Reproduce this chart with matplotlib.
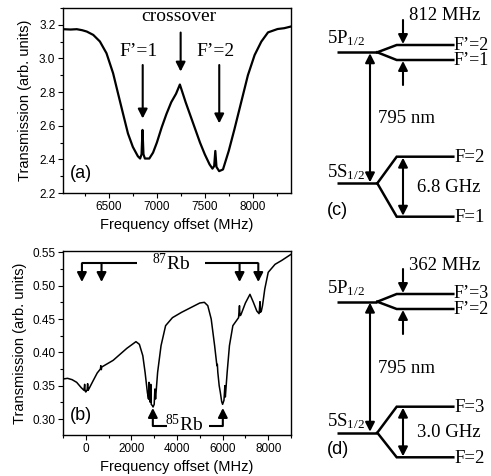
import matplotlib
matplotlib.use("Agg")
import matplotlib.pyplot as plt
from matplotlib.ticker import MultipleLocator, FormatStrFormatter

plt.rcParams['font.family'] = ['Liberation Sans', 'DejaVu Sans']
plt.rcParams['mathtext.fontset'] = 'custom'
plt.rcParams['mathtext.rm'] = 'Liberation Serif'
plt.rcParams['mathtext.it'] = 'Liberation Serif:italic'
SERIF = ['Liberation Serif', 'DejaVu Serif']

# ---------------- data: panel (a) 87Rb F=1 saturated absorption ----------------
freq_a = [6020, 6100, 6164, 6220, 6268, 6336, 6405, 6474, 6543, 6594, 6646, 6698,
          6749, 6801, 6825, 6840, 6850, 6860, 6875, 6900, 6921, 6960, 7000, 7050,
          7100, 7150, 7200, 7240, 7260, 7300, 7350, 7400, 7450, 7500, 7550, 7580,
          7598, 7610, 7622, 7650, 7690, 7750, 7810, 7880, 7950, 8020, 8090, 8160,
          8260, 8330, 8400]
trans_a = [3.174, 3.172, 3.174, 3.168, 3.160, 3.140, 3.101, 3.031, 2.912, 2.793, 2.673, 2.554,
           2.474, 2.419, 2.405, 2.43, 2.575, 2.43, 2.405, 2.405, 2.405, 2.44, 2.50, 2.59,
           2.67, 2.74, 2.79, 2.845, 2.81, 2.74, 2.66, 2.58, 2.50, 2.43, 2.37, 2.345,
           2.36, 2.45, 2.355, 2.33, 2.34, 2.45, 2.58, 2.74, 2.90, 3.02, 3.10, 3.155,
           3.175, 3.18, 3.19]

# ---------------- data: panel (b) full Rb D1 spectrum ----------------
freq_b = [-1000, -800, -600, -400, -200, -80, -50, -30, 0, 60, 80, 100, 150, 300, 500, 640, 660,
          680, 700, 900, 1200, 1500, 1800, 2000, 2200, 2350, 2500, 2600, 2700, 2750, 2770,
          2790, 2830, 2850, 2870, 2920, 2950, 3000, 3030, 3060, 3150, 3300, 3500, 3800, 4200,
          4600, 5000, 5200, 5350, 5500, 5650, 5750, 5770, 5790, 5850, 5900, 5960, 6000, 6060,
          6100, 6120, 6200, 6300, 6450, 6700, 6740, 6760, 6800, 7000, 7200, 7350, 7500,
          7600, 7640, 7660, 7700, 7750, 7850, 8000, 8300, 8600, 9000]
trans_b = [0.360, 0.361, 0.359, 0.355, 0.347, 0.343, 0.352, 0.342, 0.3405, 0.344, 0.353, 0.343, 0.346, 0.356, 0.369, 0.375, 0.380,
           0.374, 0.378, 0.382, 0.388, 0.397, 0.406, 0.411, 0.416, 0.412, 0.395, 0.37, 0.34, 0.33, 0.355,
           0.33, 0.325, 0.352, 0.322, 0.320, 0.318, 0.322, 0.345, 0.33, 0.37, 0.41, 0.44, 0.452, 0.460,
           0.467, 0.474, 0.475, 0.470, 0.45, 0.41, 0.38, 0.382, 0.37, 0.35, 0.34, 0.326, 0.322, 0.328,
           0.35, 0.333, 0.37, 0.41, 0.44, 0.452, 0.47, 0.455, 0.456, 0.474, 0.487, 0.475, 0.462,
           0.458, 0.476, 0.460, 0.462, 0.470, 0.495, 0.520, 0.532, 0.538, 0.547]

# annotation positions (MHz)
a_labels = ["F\u2019=1", "crossover", "F\u2019=2"]
a_arrow_x = [6852, 7248, 7651]
rb87_arrows = [-170, 690, 6745, 7566]
rb85_arrows = [2940, 6010]

fig = plt.figure(figsize=(4.91, 4.76), dpi=100)
W, H = 491, 476

def add_ax(l, r, t, b):
    return fig.add_axes([l / W, 1 - b / H, (r - l) / W, (b - t) / H])

axA = add_ax(63, 291, 8, 193)
axB = add_ax(63, 291, 251, 435)

for ax in (axA, axB):
    for s in ax.spines.values():
        s.set_linewidth(1.0)
    ax.tick_params(which='major', direction='out', length=3.5, width=0.8, labelsize=8.5, pad=2)
    ax.tick_params(which='minor', direction='out', length=2, width=0.8)

# ---- panel (a)
axA.plot(freq_a, trans_a, color='k', lw=1.6)
axA.set_xlim(6020, 8400)
axA.set_ylim(2.2, 3.3)
axA.xaxis.set_major_locator(MultipleLocator(500))
axA.xaxis.set_minor_locator(MultipleLocator(250))
axA.yaxis.set_major_locator(MultipleLocator(0.2))
axA.yaxis.set_minor_locator(MultipleLocator(0.1))
axA.yaxis.set_major_formatter(FormatStrFormatter('%.1f'))
axA.set_xlabel("Frequency offset (MHz)", fontsize=10.5, labelpad=4)
axA.set_ylabel("Transmission (arb. units)", fontsize=10.5, labelpad=5)
axA.text(0.03, 0.06, "(a)", transform=axA.transAxes, fontsize=13, ha='left', va='bottom')

arw = dict(arrowstyle='-|>,head_length=0.55,head_width=0.28', lw=1.5, color='k',
           shrinkA=0, shrinkB=0)
a_tail = [2.961, 3.154, 2.961]
a_tip = [2.643, 2.922, 2.614]
a_text_x = [6811, 7231, 7609]
a_text_y = [3.04, 3.25, 3.04]
for lab, x, t0, t1, tx, ty in zip(a_labels, a_arrow_x, a_tail, a_tip, a_text_x, a_text_y):
    axA.annotate('', xy=(x, t1), xytext=(x, t0), arrowprops=arw)
    axA.text(tx, ty, lab, fontsize=14, family=SERIF, ha='center', va='center')

# ---- panel (b)
axB.plot(freq_b, trans_b, color='k', lw=1.1)
axB.set_xlim(-1000, 9000)
axB.set_ylim(0.276, 0.552)
axB.xaxis.set_major_locator(MultipleLocator(2000))
axB.xaxis.set_minor_locator(MultipleLocator(1000))
axB.yaxis.set_major_locator(MultipleLocator(0.05))
axB.yaxis.set_minor_locator(MultipleLocator(0.025))
axB.yaxis.set_major_formatter(FormatStrFormatter('%.2f'))
axB.set_xlabel("Frequency offset (MHz)", fontsize=10.5, labelpad=4)
axB.set_ylabel("Transmission (arb. units)", fontsize=10.5, labelpad=4)
axB.text(0.03, 0.06, "(b)", transform=axB.transAxes, fontsize=13, ha='left', va='bottom')

# 87Rb bracket
bar_y87, tip_y87 = 0.5336, 0.5055
axB.plot([rb87_arrows[0], 2250], [bar_y87, bar_y87], color='k', lw=1.5, solid_capstyle='butt')
axB.plot([5230, rb87_arrows[3]], [bar_y87, bar_y87], color='k', lw=1.5, solid_capstyle='butt')
for x in rb87_arrows:
    axB.annotate('', xy=(x, tip_y87), xytext=(x, bar_y87), arrowprops=arw)
axB.text(3750, bar_y87, r'$^{87}$Rb', fontsize=14, family=SERIF, ha='center', va='center')

# 85Rb bracket
bar_y85, tip_y85 = 0.2895, 0.3165
axB.plot([rb85_arrows[0], 3545], [bar_y85, bar_y85], color='k', lw=1.5, solid_capstyle='butt')
axB.plot([5400, rb85_arrows[1]], [bar_y85, bar_y85], color='k', lw=1.5, solid_capstyle='butt')
for x in rb85_arrows:
    axB.annotate('', xy=(x, tip_y85), xytext=(x, bar_y85), arrowprops=arw)
axB.text(4300, bar_y85 + 0.002, r'$^{85}$Rb', fontsize=14, family=SERIF, ha='center', va='center')

# ---------------- level diagrams (c) and (d) ----------------
axD = fig.add_axes([0, 0, 1, 1])
axD.set_xlim(0, W)
axD.set_ylim(H, 0)
axD.axis('off')
axD.patch.set_visible(False)

diag_panels = ["(c)", "(d)"]
upper_split = ["812 MHz", "362 MHz"]
upper_F = [["F\u2019=2", "F\u2019=1"], ["F\u2019=3", "F\u2019=2"]]
lower_split = ["6.8 GHz", "3.0 GHz"]
lower_F = [["F=2", "F=1"], ["F=3", "F=2"]]
# y positions (px) of: P level, F' upper, F' lower, S level, F upper, F lower
levels_y = [[52.3, 45, 60, 183.3, 156.7, 216.7],
            [301.7, 294, 309, 432.7, 406.7, 457.3]]

lw_l = 1.8
dbl = dict(arrowstyle='<|-|>,head_length=0.55,head_width=0.28', lw=1.5, color='k',
           shrinkA=0, shrinkB=0)
for i in range(2):
    P, Fu, Fl, S, Gu, Gl = levels_y[i]
    # P level
    axD.plot([336.7, 377.3], [P, P], color='k', lw=lw_l, solid_capstyle='butt')
    axD.plot([377.3, 396.7, 453.3], [P, Fu, Fu], color='k', lw=lw_l, solid_joinstyle='miter')
    axD.plot([377.3, 396.7, 453.3], [P, Fl, Fl], color='k', lw=lw_l, solid_joinstyle='miter')
    # S level
    axD.plot([336.7, 377.3], [S, S], color='k', lw=lw_l, solid_capstyle='butt')
    axD.plot([377.3, 396.7, 453.3], [S, Gu, Gu], color='k', lw=lw_l, solid_joinstyle='miter')
    axD.plot([377.3, 396.7, 453.3], [S, Gl, Gl], color='k', lw=lw_l, solid_joinstyle='miter')
    # 795 nm double arrow
    axD.annotate('', xy=(370, P + 1), xytext=(370, S - 1), arrowprops=dbl)
    # hyperfine split arrows of P
    axD.annotate('', xy=(403, Fu - 1), xytext=(403, Fu - 25), arrowprops=arw)
    axD.annotate('', xy=(403, Fl + 1), xytext=(403, Fl + 25), arrowprops=arw)
    # ground splitting double arrow
    axD.annotate('', xy=(403, Gu + 1), xytext=(403, Gl - 1), arrowprops=dbl)
    # texts
    axD.text(409, Fu - 24.5, upper_split[i], fontsize=13.5, family=SERIF, ha='left', va='baseline')
    axD.text(327, P - 8.8, r'5P$_{1/2}$', fontsize=13.5, family=SERIF, ha='left', va='baseline')
    axD.text(454, Fu + 4.5, upper_F[i][0], fontsize=13, family=SERIF, ha='left', va='baseline')
    axD.text(454, Fl + 5, upper_F[i][1], fontsize=13, family=SERIF, ha='left', va='baseline')
    axD.text(378.3, (P + S) / 2 + 5.5, "795 nm", fontsize=13.5, family=SERIF, ha='left', va='baseline')
    axD.text(327, S - 6.5, r'5S$_{1/2}$', fontsize=13.5, family=SERIF, ha='left', va='baseline')
    axD.text(454, Gu + 5.5, lower_F[i][0], fontsize=13.5, family=SERIF, ha='left', va='baseline')
    axD.text(454, Gl + 5.3, lower_F[i][1], fontsize=13.5, family=SERIF, ha='left', va='baseline')
    axD.text(417, (Gu + Gl) / 2 + 5, lower_split[i], fontsize=13.5, family=SERIF, ha='left', va='baseline')
    axD.text(327, Gl - 6 if i == 0 else S + 17, diag_panels[i], fontsize=13, ha='left', va='center')

fig.savefig("out.png", dpi=100)
